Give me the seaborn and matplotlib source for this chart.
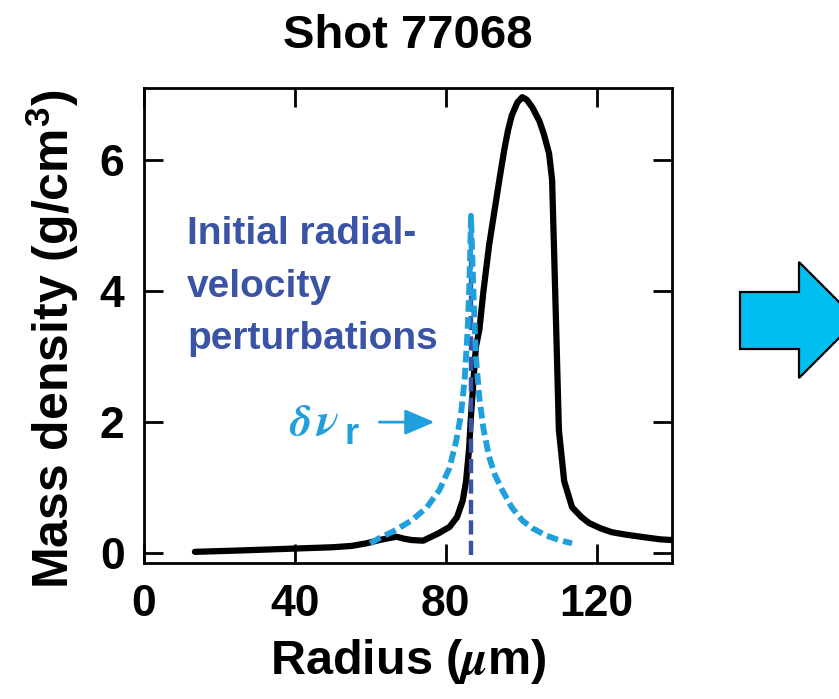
import numpy as np
import pandas as pd
import matplotlib
matplotlib.use("Agg")
import matplotlib.pyplot as plt
from matplotlib.patches import Polygon
import seaborn as sns

sns.set_theme(style="ticks")
plt.rcParams["font.family"] = ["Liberation Sans", "DejaVu Sans"]
plt.rcParams["font.weight"] = "bold"
plt.rcParams["axes.labelweight"] = "bold"
plt.rcParams["axes.titleweight"] = "bold"
plt.rcParams["text.color"] = "black"
plt.rcParams["axes.labelcolor"] = "black"
plt.rcParams["xtick.color"] = "black"
plt.rcParams["ytick.color"] = "black"
plt.rcParams["mathtext.fontset"] = "custom"
plt.rcParams["mathtext.rm"] = "Liberation Sans:bold"
plt.rcParams["mathtext.bf"] = "Liberation Sans:bold"
plt.rcParams["mathtext.it"] = "STIXGeneral:italic:bold"

# mass density profile, shot 77068
radius = [13.5, 25, 40, 50, 55, 59, 62.4, 65, 67, 69, 71, 74, 78, 81, 83,
          84.5, 85.4, 86.2, 86.7, 88, 88.9, 90, 91.5, 93.4, 94.5, 95.5, 96.5,
          97.5, 99, 100.3, 101.5, 103, 104.8, 106, 107.4, 108.2, 108.7, 109.3,
          110, 111.4, 113.5, 116, 118, 121, 124, 128, 133, 137, 140]
density = [0.02, 0.04, 0.07, 0.09, 0.11, 0.15, 0.2, 0.23, 0.25, 0.22, 0.2,
           0.19, 0.3, 0.4, 0.55, 0.8, 1.1, 1.6, 2.1, 3.15, 3.4, 4.0, 4.7,
           5.4, 5.8, 6.15, 6.45, 6.68, 6.88, 6.96, 6.92, 6.8, 6.6, 6.4, 6.1,
           5.7, 4.67, 3.4, 1.88, 1.1, 0.7, 0.55, 0.46, 0.38, 0.32, 0.28, 0.24,
           0.21, 0.2]

# initial radial-velocity perturbation envelope (arbitrary units)
pert_r = [60, 62.4, 66, 71, 75, 78.3, 81, 82.8, 84, 85, 85.8, 86.2, 86.5,
          86.7, 87.0, 87.4, 88.0, 88.9, 90, 91.5, 93, 95, 97.5, 100.3, 103,
          106.6, 110, 113.5]
pert_v = [0.15, 0.23, 0.33, 0.5, 0.7, 0.96, 1.3, 1.72, 2.1, 2.64, 3.4, 4.0,
          4.6, 5.15, 4.6, 3.9, 3.0, 2.38, 1.9, 1.47, 1.2, 0.96, 0.7, 0.5,
          0.38, 0.27, 0.2, 0.15]

# perturbation location
loc_r = [86.7, 86.7]
loc_v = [-0.03, 5.1]

x_ticks = [0, 40, 80, 120]
y_ticks = [0, 2, 4, 6]

light_blue = "#1FA0DC"
dark_blue = "#3A53A4"

profile = pd.DataFrame({"r": radius, "rho": density})
pert = pd.DataFrame({"r": pert_r, "v": pert_v})
loc = pd.DataFrame({"r": loc_r, "v": loc_v})

fig = plt.figure(figsize=(8.39, 6.99), dpi=100)
ax = fig.add_axes([0.1716, 0.1946, 0.6294, 0.6795])

sns.lineplot(data=profile, x="r", y="rho", ax=ax, color="black", lw=4.5,
             estimator=None, sort=False)
sns.lineplot(data=loc, x="r", y="v", ax=ax, color=dark_blue, lw=3.2,
             estimator=None, sort=False, linestyle=(0, (3.2, 1.4)))
sns.lineplot(data=pert, x="r", y="v", ax=ax, color=light_blue, lw=4.2,
             estimator=None, sort=False, linestyle=(0, (2.0, 0.9)))

ax.set_xlim(0, 140)
ax.set_ylim(-0.15, 7.1)
ax.set_xticks(x_ticks)
ax.set_yticks(y_ticks)
ax.tick_params(direction="in", length=14, width=2, top=True, right=True,
               labelsize=32, color="black")
ax.tick_params(axis="x", pad=15)
ax.tick_params(axis="y", pad=14)
for sp in ax.spines.values():
    sp.set_linewidth(2)
    sp.set_color("black")

ax.set_title("Shot 77068", fontsize=34, pad=29)
ax.set_xlabel(r"Radius ($\mu$m)", fontsize=35)
ax.set_ylabel(r"Mass density (g/cm$^\mathbf{3}$)", fontsize=36)
ax.xaxis.set_label_coords(0.5, -0.155)
ax.yaxis.set_label_coords(-0.12, 0.472)

ax.text(11.4, 5.15, "Initial radial-\nvelocity\nperturbations",
        color=dark_blue, fontsize=28, fontweight="bold", va="top",
        ha="left", linespacing=1.6)

ax.text(38.6, 1.8, "δ", color=light_blue, fontsize=32, va="baseline",
        ha="left", family="STIXGeneral", style="italic", weight="bold")
ax.text(45.6, 1.8, "ν", color=light_blue, fontsize=34, va="baseline",
        ha="left", family="STIXGeneral", style="italic", weight="bold")
ax.text(53.2, 1.66, "r", color=light_blue, fontsize=26, va="baseline",
        ha="left", weight="bold")
ax.annotate("", xy=(77, 2.0), xytext=(62.4, 2.0),
            arrowprops=dict(arrowstyle="-|>,head_length=0.65,head_width=0.28",
                            color=light_blue, lw=2, mutation_scale=28,
                            shrinkA=0, shrinkB=0))

# block arrow pointing to the next panel
W, H = 839, 699
pts = [(740, 292), (799, 292), (799, 262), (857, 320), (799, 378),
       (799, 349), (740, 349)]
arrow = Polygon([(x / W, 1 - y / H) for x, y in pts], closed=True,
                transform=fig.transFigure, facecolor="#00BEF2",
                edgecolor="black", lw=1.6)
fig.add_artist(arrow)

fig.savefig("out.png", dpi=100)
